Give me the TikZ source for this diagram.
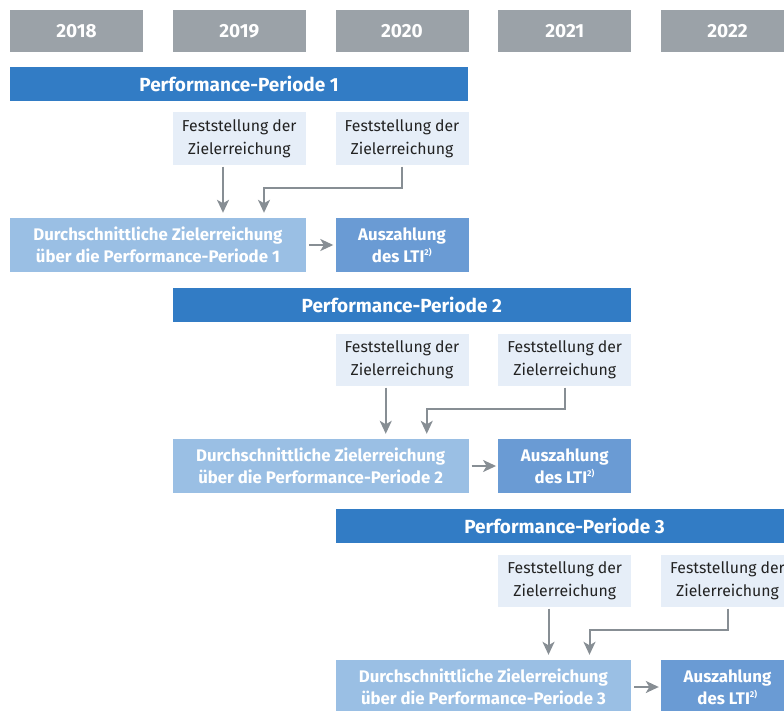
\documentclass[tikz,border=0pt]{standalone}
\usepackage{fontspec}
\setmainfont{Fira Sans}
\usetikzlibrary{arrows.meta,calc}
\definecolor{yeargray}{HTML}{9BA2A8}
\definecolor{barblue}{HTML}{327CC5}
\definecolor{paleblue}{HTML}{E6EEF8}
\definecolor{midblue}{HTML}{9ABFE4}
\definecolor{payblue}{HTML}{6A9BD4}
\definecolor{arrgray}{HTML}{878E94}
\definecolor{txtdark}{HTML}{222222}
\newcommand{\supnote}[1]{\textsuperscript{\fontsize{8.5}{8.5}\selectfont #1}}
\tikzset{
  yearbox/.style={fill=yeargray, minimum width=133pt, minimum height=42pt, inner sep=0pt, text=white, font=\fontsize{19}{22}\selectfont\bfseries},
  perbar/.style={fill=barblue, minimum width=458pt, minimum height=34pt, inner sep=0pt, text=white, font=\fontsize{19}{22}\selectfont\bfseries},
  festbox/.style={fill=paleblue, minimum width=133pt, minimum height=52.5pt, inner sep=0pt, text=txtdark, align=center, font=\fontsize{15.8}{22.5}\selectfont},
  avgbox/.style={fill=midblue, minimum width=295.75pt, minimum height=54pt, inner sep=0pt, text=white, align=center, font=\fontsize{16.8}{22}\selectfont\bfseries},
  paybox/.style={fill=payblue, minimum width=133pt, minimum height=54pt, inner sep=0pt, text=white, align=center, font=\fontsize{16.8}{22}\selectfont\bfseries},
  arr/.style={draw=arrgray, line width=2pt, -{Stealth[length=13pt,width=12pt,inset=3.5pt]}}
}
\begin{document}
\begin{tikzpicture}[x=1pt,y=-1pt]
\useasboundingbox (0,0) rectangle (784,711);
\clip (0,0) rectangle (784,711);
\foreach \i/\yr in {0/2018,1/2019,2/2020,3/2021,4/2022}{
  \node[yearbox] (year\i) at ({76.5+162.75*\i},31) {\yr};
}
\foreach \p/\n in {0/1,1/2,2/3}{
  \pgfmathsetmacro{\dx}{162.75*\p}
  \pgfmathsetmacro{\dy}{221*\p}
  \node[perbar] (bar\n) at ({239+\dx},{84+\dy}) {Performance-Periode \n};
  \node[festbox] (fa\n) at ({239.25+\dx},{138.75+\dy}) {Feststellung der\\Zielerreichung};
  \node[festbox] (fb\n) at ({402+\dx},{138.75+\dy}) {Feststellung der\\Zielerreichung};
  \node[avgbox] (avg\n) at ({157.9+\dx},{245+\dy}) {Durchschnittliche Zielerreichung\\über die Performance-Periode \n};
  \node[paybox] (pay\n) at ({402+\dx},{245+\dy}) {Auszahlung\\des LTI\supnote{2)}};
  \draw[arr] ($(fa\n.south)+(-16.25,1.5)$) -- ($(fa\n.south |- avg\n.north)+(-16.25,-5)$);
  \draw[arr] ($(fb\n.south)+(0,1.5)$) -- ++(0,21) -| ($(fa\n.south |- avg\n.north)+(24.75,-5)$);
  \draw[arr] ($(avg\n.east)+(3,0)$) -- ($(pay\n.west)+(-2,0)$);
}
\end{tikzpicture}
\end{document}
